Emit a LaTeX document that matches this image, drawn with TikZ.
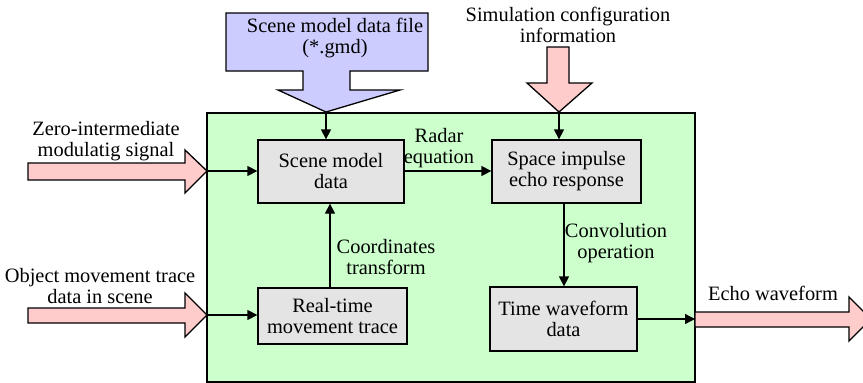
\documentclass[tikz,border=0pt]{standalone}
\usepackage{fontspec}
\setmainfont{Liberation Serif}
\usetikzlibrary{arrows.meta}

\definecolor{fileblue}{RGB}{204,204,255}
\definecolor{inpink}{RGB}{255,204,204}
\definecolor{simgreen}{RGB}{204,255,204}
\definecolor{boxgray}{RGB}{228,228,228}

\tikzset{
  block/.style={draw, fill=boxgray, line width=1.3pt, align=center, inner sep=0pt},
  lbl/.style={align=center, inner sep=0pt},
  flow/.style={-{Triangle[length=10pt,width=10pt]}, line width=1.3pt},
  fat/.style={line width=1.3pt, line join=miter}
}

\begin{document}
\begin{tikzpicture}[x=1pt,y=-1pt,font=\fontsize{20.4}{21}\selectfont]
\useasboundingbox (0,0) rectangle (863,383);

% simulator frame
\filldraw[fill=simgreen,line width=1.4pt] (207,113) rectangle (695,382);

% input and output block arrows
\filldraw[fat,fill=fileblue] (226,13) -- (428,13) -- (428,71) -- (350,71) -- (350,90) -- (400,90) -- (326,112) -- (278,90) -- (303,90) -- (303,71) -- (226,71) -- cycle;
\filldraw[fat,fill=inpink] (547,47) -- (569,47) -- (569,83) -- (592,83) -- (559,112) -- (527,83) -- (547,83) -- cycle;
\filldraw[fat,fill=inpink] (28,163) -- (185,163) -- (185,150) -- (207,171) -- (185,193) -- (185,180) -- (28,180) -- cycle;
\filldraw[fat,fill=inpink] (28,308) -- (185,308) -- (185,293) -- (207,315) -- (185,337) -- (185,323) -- (28,323) -- cycle;
\filldraw[fat,fill=inpink] (695,312) -- (849,312) -- (849,297) -- (871,319) -- (849,341) -- (849,327) -- (695,327) -- cycle;

\coordinate (filetip) at (326,112);
\coordinate (cfgtip) at (559,112);
\coordinate (sigtip) at (207,171);
\coordinate (trtip) at (207,315);
\coordinate (outedge) at (695,319);

% block arrow captions
\node[lbl] (filetxt) at (335,38) {Scene model data file\\(*.gmd)};
\node[lbl] (cfgtxt) at (568,25) {Simulation configuration\\information};
\node[lbl] (sigtxt) at (106,141) {Zero-intermediate\\modulatig signal};
\node[lbl] (trtxt) at (100,286) {Object movement trace\\data in scene};
\node[lbl] (echotxt) at (773,293) {Echo waveform};

% processing blocks
\node[block, minimum width=146pt, minimum height=63pt] (scene) at (331,171.5) {Scene model\\data};
\node[block, minimum width=149pt, minimum height=63pt] (space) at (566.5,171.5) {Space impulse\\echo response};
\node[block, minimum width=149pt, minimum height=56pt] (rt) at (332.5,316) {Real-time\\movement trace};
\node[block, minimum width=147pt, minimum height=64pt] (wave) at (563.5,319) {Time waveform\\data};

% connections
\draw[flow] (filetip) -- (filetip |- scene.north);
\draw[flow] (cfgtip) -- (cfgtip |- space.north);
\draw[flow] (sigtip) -- (sigtip -| scene.west);
\draw[flow] (trtip) -- (trtip -| rt.west);
\draw[flow] (scene.east |- sigtip) -- (space.west |- sigtip);
\draw[flow] (330,0 |- rt.north) -- (330,0 |- scene.south);
\draw[flow] (564,0 |- space.south) -- (564,0 |- wave.north);
\draw[flow] (wave.east) -- (outedge);

% edge labels
\node[lbl] (radar) at (439,148) {Radar\\equation};
\node[lbl] (coord) at (386,257) {Coordinates\\transform};
\node[lbl] (conv) at (616,243) {Convolution\\operation};
\end{tikzpicture}
\end{document}
